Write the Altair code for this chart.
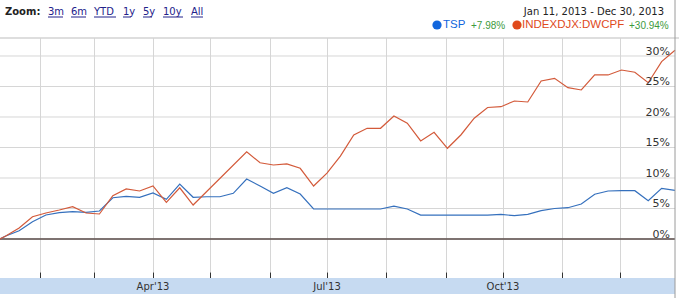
import altair as alt
import pandas as pd

# ---------------- data ----------------
dates = [
    "2013-01-11", "2013-01-14", "2013-01-21", "2013-01-28", "2013-02-04", "2013-02-11",
    "2013-02-18", "2013-02-25", "2013-03-04", "2013-03-11", "2013-03-18", "2013-03-25",
    "2013-04-01", "2013-04-08", "2013-04-15", "2013-04-22", "2013-04-29", "2013-05-06",
    "2013-05-13", "2013-05-20", "2013-05-27", "2013-06-03", "2013-06-10", "2013-06-17",
    "2013-06-24", "2013-07-01", "2013-07-08", "2013-07-15", "2013-07-22", "2013-07-29",
    "2013-08-05", "2013-08-12", "2013-08-19", "2013-08-26", "2013-09-02", "2013-09-09",
    "2013-09-16", "2013-09-23", "2013-09-30", "2013-10-07", "2013-10-14", "2013-10-21",
    "2013-10-28", "2013-11-04", "2013-11-11", "2013-11-18", "2013-11-25", "2013-12-02",
    "2013-12-09", "2013-12-16", "2013-12-23", "2013-12-30",
]
tsp = [
    0.0, 0.5, 1.36, 2.84, 3.93, 4.31, 4.48, 4.38, 4.59, 6.77, 7.0, 6.84,
    7.54, 6.5, 9.0, 6.84, 6.93, 6.93, 7.49, 9.84, 8.69, 7.49, 8.41, 7.38,
    4.92, 4.92, 4.92, 4.92, 4.92, 4.92, 5.4, 4.92, 3.93, 3.93, 3.93, 3.93,
    3.93, 3.93, 4.05, 3.82, 4.05, 4.64, 5.0, 5.13, 5.74, 7.34, 7.87, 7.92,
    7.92, 6.28, 8.31, 7.98,
]
dwcpf = [
    0.0, 0.5, 1.8, 3.66, 4.26, 4.75, 5.3, 4.26, 4.1, 7.1, 8.2, 7.87,
    8.69, 6.0, 8.4, 5.57, None, None, None, 14.3, 12.5, 12.13, 12.3, 11.59,
    8.69, 10.8, 13.6, 17.05, 18.15, 18.15, 20.16, 19.0, 16.07, 17.5, 14.87, 17.05,
    19.8, 21.56, 21.69, 22.62, 22.46, 25.9, 26.34, 24.8, 24.43, 26.89, 26.89, 27.7,
    27.33, 25.62, 29.07, 30.94,
]
series_names = ["TSP", "INDEXDJX:DWCPF"]
series_colors = ["#3570bd", "#d35a3a"]
series_changes = ["+7.98%", "+30.94%"]

y_ticks = [0, 5, 10, 15, 20, 25, 30]
month_ticks = [(2013, m) for m in range(2, 13)]
quarter_dates = ["2013-04-01", "2013-07-01", "2013-10-01"]
quarter_labels = ["Apr'13", "Jul'13", "Oct'13"]
zoom_links = ["3m", "6m", "YTD", "1y", "5y", "10y", "All"]

# ---------------- tables ----------------
rows = []
for d, a, b in zip(dates, tsp, dwcpf):
    rows.append({"date": d, "series": "TSP", "value": a})
    if b is not None:
        rows.append({"date": d, "series": "INDEXDJX:DWCPF", "value": b})
df = pd.DataFrame(rows)
qdf = pd.DataFrame({"date": quarter_dates, "label": quarter_labels})
ydf = pd.DataFrame({"value": y_ticks, "label": [f"{v}%" for v in y_ticks]})
zdf = pd.DataFrame({"value": [0]})

W, H = 675, 234
FONT = "DejaVu Sans"

xscale = alt.Scale(
    domain=[alt.DateTime(year=2013, month=1, date=11), alt.DateTime(year=2013, month=12, date=30)],
    nice=False,
)
yscale = alt.Scale(domain=[-5.41, 32.95], nice=False, zero=False)
cscale = alt.Scale(domain=series_names, range=series_colors)

one = pd.DataFrame({"k": [0]})

band = alt.Chart(one).mark_rect(color="#c6daf1").encode(
    x=alt.value(0), x2=alt.value(W), y=alt.value(240), y2=alt.value(256)
)

# horizontal grid lines
ygrid = alt.Chart(ydf).mark_rule(color="#d6d6d6", strokeWidth=1).encode(
    y=alt.Y("value:Q", scale=yscale, axis=None), x=alt.value(0), x2=alt.value(W)
)

lines = alt.Chart(df).mark_line(strokeWidth=1.2, interpolate="linear").encode(
    x=alt.X(
        "date:T",
        scale=xscale,
        axis=alt.Axis(
            values=[alt.DateTime(year=y, month=m, date=1) for y, m in month_ticks],
            grid=True, gridColor="#d6d6d6", gridWidth=1,
            ticks=True, tickSize=6, tickColor="#333333", tickWidth=1,
            domain=False, labels=False, title=None,
        ),
    ),
    y=alt.Y("value:Q", scale=yscale, axis=None),
    color=alt.Color("series:N", scale=cscale, legend=None),
    detail="series:N",
)

zero_rule = alt.Chart(zdf).mark_rule(color="#5a4b48", strokeWidth=1.5).encode(
    y=alt.Y("value:Q", scale=yscale, axis=None), x=alt.value(0), x2=alt.value(W)
)

ylabels = alt.Chart(ydf).mark_text(
    font=FONT, fontSize=11, color="#333333", align="right", baseline="alphabetic", dy=-1
).encode(y=alt.Y("value:Q", scale=yscale, axis=None), x=alt.value(670), text="label:N")

qlabels = alt.Chart(qdf).mark_text(
    font=FONT, fontSize=10, color="#333333", baseline="middle", align="center"
).encode(x=alt.X("date:T", scale=xscale), y=alt.value(249), text="label:N")

layers = [band, ygrid, zero_rule, lines, ylabels, qlabels]

# borders
layers.append(alt.Chart(one).mark_rule(color="#bdbdbd", strokeWidth=1).encode(
    x=alt.value(0), x2=alt.value(679), y=alt.value(0)))
layers.append(alt.Chart(one).mark_rule(color="#9a9a9a", strokeWidth=1).encode(
    x=alt.value(W), y=alt.value(-38), y2=alt.value(260)))

# header: zoom links
layers.append(alt.Chart(one).mark_text(
    text="Zoom:", font=FONT, fontSize=10, fontWeight="bold", color="#222222",
    align="left", baseline="middle").encode(x=alt.value(5), y=alt.value(-26)))
link_x = [48, 71, 94, 123, 143, 163, 191]
link_w = [15, 15, 22, 8, 9, 20, 12]
for t, lx, lw in zip(zoom_links, link_x, link_w):
    layers.append(alt.Chart(one).mark_text(
        text=t, font=FONT, fontSize=10, color="#22228a",
        align="left", baseline="middle").encode(x=alt.value(lx), y=alt.value(-26)))
    layers.append(alt.Chart(one).mark_rule(color="#22228a", strokeWidth=1).encode(
        x=alt.value(lx), x2=alt.value(lx + lw), y=alt.value(-21)))

# header: date range
layers.append(alt.Chart(one).mark_text(
    text="Jan 11, 2013  -  Dec 30, 2013", font=FONT, fontSize=10, color="#222222",
    align="right", baseline="middle").encode(x=alt.value(664), y=alt.value(-26)))

# header: legend
leg_dot_x = [437, 517]
leg_name_x = [443, 522]
leg_chg_x = [471, 629]
leg_dot_colors = ["#1166dd", "#e04a1c"]
for i in range(2):
    layers.append(alt.Chart(one).mark_point(
        filled=True, size=85, shape="circle", color=leg_dot_colors[i], opacity=1
    ).encode(x=alt.value(leg_dot_x[i]), y=alt.value(-13)))
    layers.append(alt.Chart(one).mark_text(
        text=series_names[i], font="Liberation Sans", fontSize=11.5, color=leg_dot_colors[i],
        align="left", baseline="middle").encode(x=alt.value(leg_name_x[i]), y=alt.value(-13)))
    layers.append(alt.Chart(one).mark_text(
        text=series_changes[i], font="Liberation Sans", fontSize=10, color="#3d9a3d",
        align="left", baseline="middle").encode(x=alt.value(leg_chg_x[i]), y=alt.value(-12)))

chart = alt.layer(*layers).properties(
    width=W, height=H,
    autosize=alt.AutoSizeParams(type="none"),
    padding={"left": 0, "top": 38, "right": 4, "bottom": 26},
    background="white",
).configure_view(stroke=None)

chart.save("out.html", embed_options={"renderer": "svg", "actions": False})
